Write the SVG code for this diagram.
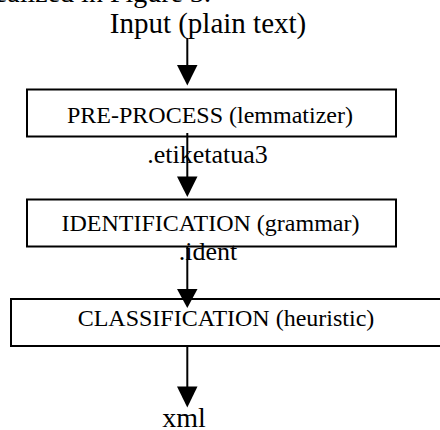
<svg xmlns="http://www.w3.org/2000/svg" width="440" height="430" viewBox="0 0 440 430">
<style>
text{font-family:"Liberation Serif","Times New Roman",serif;fill:#000}
.lbl{font-size:28px;text-anchor:middle}
.box{fill:#fff;stroke:#000;stroke-width:2}
.bt{font-size:24px;text-anchor:middle}
.ct{font-size:26px;text-anchor:middle}
.ln{stroke:#000;stroke-width:2;fill:none}
.ah{fill:#000}
</style>
<rect width="440" height="430" fill="#fff"/>
<text x="211" y="2" style="font-size:28px;text-anchor:end">ealized in Figure 3.</text>
<g id="input"><text class="lbl" x="208" y="33" style="font-size:29px">Input (plain text)</text></g>
<g id="preprocess"><rect class="box" x="27" y="89.5" width="369" height="47"/><text class="bt" x="210" y="122.5">PRE-PROCESS (lemmatizer)</text></g>
<g id="identification"><rect class="box" x="27" y="199.5" width="369" height="47"/><text class="bt" x="210.5" y="230.5">IDENTIFICATION (grammar)</text></g>
<g id="classification"><rect class="box" x="11" y="299" width="440" height="47"/><text class="bt" x="226" y="326">CLASSIFICATION (heuristic)</text></g>
<g id="output"><text class="lbl" x="184" y="427">xml</text></g>
<g id="connectors">
<line class="ln" x1="187.3" y1="38" x2="187.3" y2="66"/>
<polygon class="ah" points="177,65 197.5,65 187.3,85.5"/>
<line class="ln" x1="187.3" y1="133" x2="187.3" y2="178"/>
<polygon class="ah" points="177,176.5 197.5,176.5 187.3,197"/>
<text class="ct" x="207.5" y="163">.etiketatua3</text>
<line class="ln" x1="187.3" y1="247" x2="187.3" y2="290"/>
<polygon class="ah" points="177,289 197.5,289 187.3,308"/>
<text class="ct" x="208" y="260">.ident</text>
<line class="ln" x1="187.3" y1="346" x2="187.3" y2="388"/>
<polygon class="ah" points="177,386.5 197.5,386.5 187.3,407.5"/>
</g>
</svg>
